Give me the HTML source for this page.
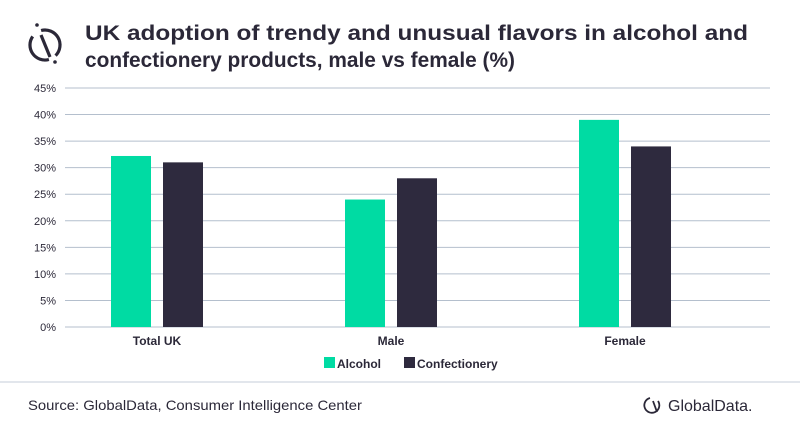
<!DOCTYPE html>
<html><head><meta charset="utf-8"><style>
html,body{margin:0;padding:0;background:#fff;}
#wrap{position:relative;width:800px;height:428px;overflow:hidden;font-family:"Liberation Sans",sans-serif;}
svg text{font-family:"Liberation Sans",sans-serif;}
</style></head><body>
<div id="wrap">
<svg id="chart" width="800" height="428">
  <g fill="none" stroke="#2b2838" stroke-width="3.2">
    <path d="M41.1 30.5 A15 15 0 0 1 55.6 55.6" />
    <path d="M48.9 59.5 A15 15 0 0 1 32.7 36.4" />
    <line x1="41" y1="35" x2="50" y2="57" />
  </g>
  <circle cx="37" cy="25" r="1.8" fill="#2b2838"/>
  <circle cx="55" cy="62" r="1.8" fill="#2b2838"/>
  <text x="85" y="40" font-size="21" font-weight="bold" fill="#2b2838" textLength="663" lengthAdjust="spacingAndGlyphs">UK adoption of trendy and unusual flavors in alcohol and</text>
  <text x="85" y="67" font-size="21" font-weight="bold" fill="#2b2838" textLength="430" lengthAdjust="spacingAndGlyphs">confectionery products, male vs female (%)</text>
  <g id="grid"></g>
  <g id="bars"></g>
  <g id="labels"></g>
  <g>
    <rect x="324" y="357" width="11" height="11" fill="#00dba3"/>
    <text x="337" y="368" font-size="12" font-weight="bold" fill="#2b2838">Alcohol</text>
    <rect x="404" y="357" width="11" height="11" fill="#2e2a3e"/>
    <text x="417" y="368" font-size="12" font-weight="bold" fill="#2b2838">Confectionery</text>
  </g>
  <line x1="0" y1="382" x2="800" y2="382" stroke="#d9dde5" stroke-width="1.5"/>
  <text x="28" y="410" font-size="14" fill="#2b2838" textLength="334" lengthAdjust="spacingAndGlyphs">Source: GlobalData, Consumer Intelligence Center</text>
  <g>
    <path d="M650 398 A7.5 7.5 0 1 0 658 401" fill="none" stroke="#2b2838" stroke-width="1.8"/>
    <line x1="653" y1="401" x2="657" y2="412" stroke="#2b2838" stroke-width="1.8"/>
    <text x="668" y="411" font-size="16" fill="#2b2838">GlobalData.</text>
  </g>
</svg>
</div>
<script>
const categories = ["Total UK", "Male", "Female"];
const alcohol = [32.2, 24, 39];
const confectionery = [31, 28, 34];
const yTicks = [0, 5, 10, 15, 20, 25, 30, 35, 40, 45];
const yTickLabels = ["0%","5%","10%","15%","20%","25%","30%","35%","40%","45%"];

const NS = "http://www.w3.org/2000/svg";
const x0 = 65, x1 = 770, yBase = 327, yTop = 88, yMax = 45;
function yScale(v){ return yBase - (v / yMax) * (yBase - yTop); }
function xCenter(i){ return 157 + i * 234; }
function mk(tag, attrs){ const e = document.createElementNS(NS, tag); for (const k in attrs) e.setAttribute(k, attrs[k]); return e; }

const grid = document.getElementById('grid');
yTicks.forEach((t, i) => {
  const y = yScale(t);
  const l = mk('line', {x1: x0, x2: x1, y1: y, y2: y, stroke: '#b4bfcd', 'stroke-width': 1});
  
  
  grid.appendChild(l);
  const tx = mk('text', {x: 56, y: y + 4, 'font-size': 11, fill: '#2b2838', 'text-anchor': 'end'});
  tx.textContent = yTickLabels[i];
  
  
  grid.appendChild(tx);
});

const bars = document.getElementById('bars');
const labels = document.getElementById('labels');
const bw = 40, gap = 12;
categories.forEach((c, i) => {
  const cx = xCenter(i);
  const ya = yScale(alcohol[i]);
  const ra = mk('rect', {x: cx - gap/2 - bw, y: ya, width: bw, height: yBase - ya, fill: '#00dba3'});
  
  
  bars.appendChild(ra);
  const yc = yScale(confectionery[i]);
  const rc = mk('rect', {x: cx + gap/2, y: yc, width: bw, height: yBase - yc, fill: '#2e2a3e'});
  
  
  bars.appendChild(rc);
  const tx = mk('text', {x: cx, y: 345, 'font-size': 12, 'font-weight': 'bold', fill: '#2b2838', 'text-anchor': 'middle'});
  tx.textContent = c;
  
  
  labels.appendChild(tx);
});
</script>
</body></html>
